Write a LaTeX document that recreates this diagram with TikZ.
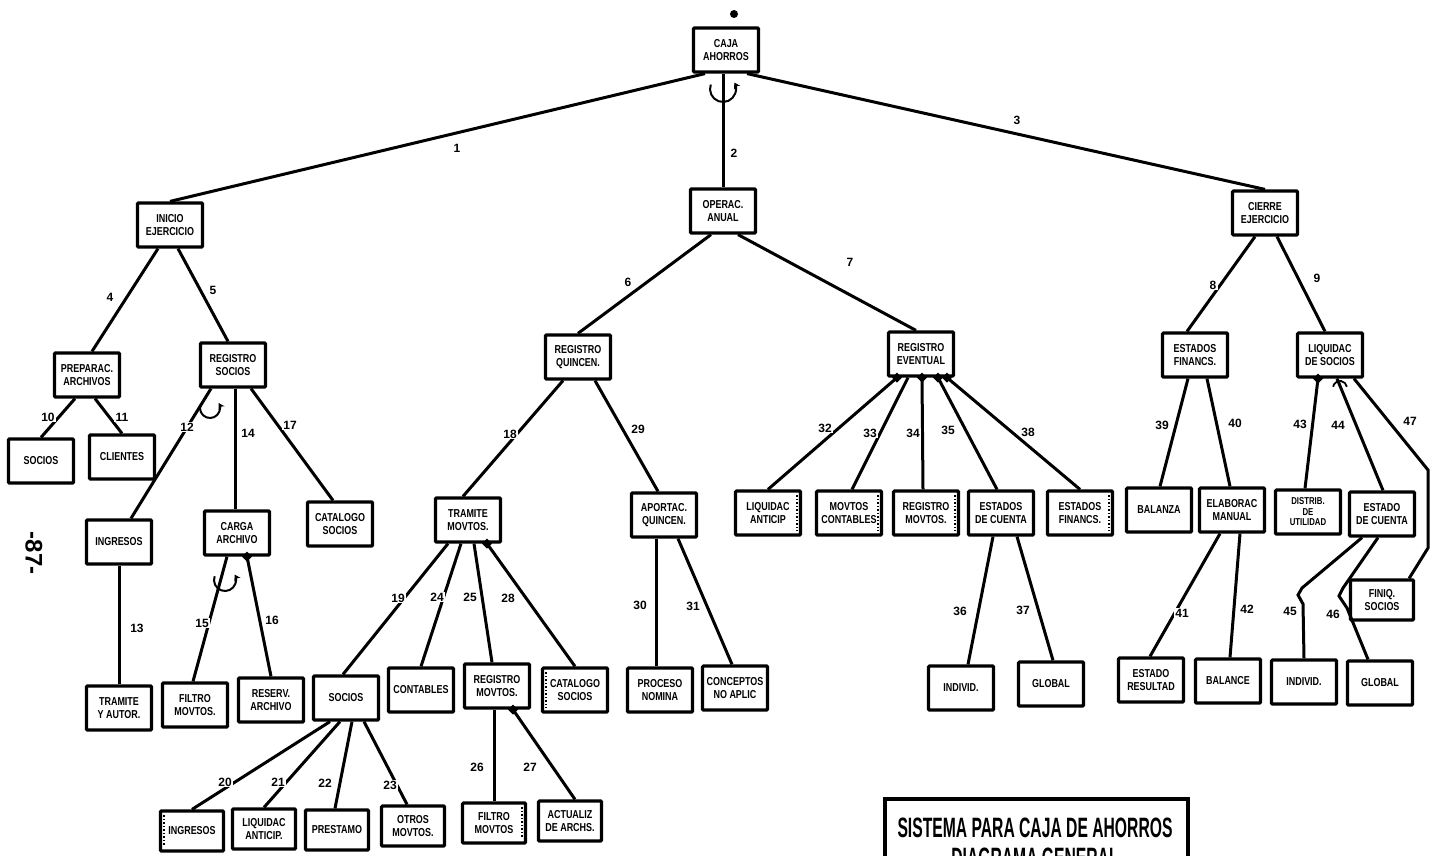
\documentclass[tikz,border=0pt]{standalone}
\usepackage{fontspec}
\setmainfont{Liberation Sans}
\newfontfamily\boxfont[FakeStretch=0.78]{Liberation Sans}
\newfontfamily\titlefont[FakeStretch=0.56]{Liberation Sans}
\usetikzlibrary{calc,shapes.geometric,arrows.meta}

\tikzset{
  blk/.style={draw, line width=3.2pt, minimum width=65pt, minimum height=44pt,
    inner sep=1pt, align=center, fill=white, rounded corners=1pt,
    font=\boxfont\bfseries\fontsize{11.5}{12.5}\selectfont},
  small/.style={minimum width=63pt, minimum height=40pt},
  conn/.style={line width=3pt},
  num/.style={fill=white, inner sep=1.2pt, font=\bfseries\fontsize{12}{13}\selectfont},
  cond/.style={diamond, fill=black, inner sep=0pt, minimum size=10pt},
  itr/.style={line width=2pt, -{Stealth[length=6pt,width=7pt]}},
  innerdots/.style={line width=1.5pt, dotted}
}

\begin{document}
\begin{tikzpicture}[x=1pt,y=-1pt]
\useasboundingbox (0,0) rectangle (1432,856);
\clip (0,0) rectangle (1432,856);
\fill[white] (0,0) rectangle (1432,856);

% ---------- boxes ----------
\node[blk] (root) at (726,50) {CAJA\\AHORROS};

\node[blk] (inicio) at (170,225) {INICIO\\EJERCICIO};
\node[blk] (operac) at (723,211) {OPERAC.\\ANUAL};
\node[blk] (cierre) at (1265,213) {CIERRE\\EJERCICIO};

\node[blk] (prepara)  at (87,375)   {PREPARAC.\\ARCHIVOS};
\node[blk] (regsoc)   at (233,365)  {REGISTRO\\SOCIOS};
\node[blk] (regquin)  at (578,357)  {REGISTRO\\QUINCEN.};
\node[blk] (regevent) at (921,354)  {REGISTRO\\EVENTUAL};
\node[blk] (estfin)   at (1195,355) {ESTADOS\\FINANCS.};
\node[blk] (liqsoc)   at (1330,355) {LIQUIDAC\\DE SOCIOS};

\node[blk] (socios10)   at (41,461)   {SOCIOS};
\node[blk] (clientes)   at (122,457)  {CLIENTES};
\node[blk] (ingresos12) at (119,542)  {INGRESOS};
\node[blk] (carga)      at (237,533)  {CARGA\\ARCHIVO};
\node[blk] (catalogo17) at (340,524)  {CATALOGO\\SOCIOS};
\node[blk] (tramovt)    at (468,520)  {TRAMITE\\MOVTOS.};
\node[blk] (aportac)    at (664,515)  {APORTAC.\\QUINCEN.};
\node[blk] (liq32)      at (768,513)  {LIQUIDAC\\ANTICIP};
\node[blk] (movcont)    at (849,513)  {MOVTOS\\CONTABLES};
\node[blk] (regmov34)   at (926,513)  {REGISTRO\\MOVTOS.};
\node[blk] (estcta)     at (1001,513) {ESTADOS\\DE CUENTA};
\node[blk] (estfin38)   at (1080,513) {ESTADOS\\FINANCS.};
\node[blk] (balanza)    at (1159,510) {BALANZA};
\node[blk] (elabman)    at (1232,510) {ELABORAC\\MANUAL};
\node[blk, font=\boxfont\bfseries\fontsize{10}{10.5}\selectfont] (distrib) at (1308,512) {DISTRIB.\\DE\\UTILIDAD};
\node[blk] (estcta44)   at (1382,514) {ESTADO\\DE CUENTA};
\node[blk, small] (finiq) at (1382,600) {FINIQ.\\SOCIOS};

\node[blk] (tramite13)  at (119,708)  {TRAMITE\\Y AUTOR.};
\node[blk] (filtro15)   at (195,705)  {FILTRO\\MOVTOS.};
\node[blk] (reserv)     at (271,700)  {RESERV.\\ARCHIVO};
\node[blk] (socios19)   at (346,698)  {SOCIOS};
\node[blk] (contables)  at (421,690)  {CONTABLES};
\node[blk] (regmov25)   at (497,686)  {REGISTRO\\MOVTOS.};
\node[blk] (catalogo28) at (575,690)  {CATALOGO\\SOCIOS};
\node[blk] (proceso)    at (660,690)  {PROCESO\\NOMINA};
\node[blk] (conceptos)  at (735,688)  {CONCEPTOS\\NO APLIC};
\node[blk] (indiv36)    at (961,688)  {INDIVID.};
\node[blk] (global37)   at (1051,684) {GLOBAL};
\node[blk] (estres)     at (1151,680) {ESTADO\\RESULTAD};
\node[blk] (balance)    at (1228,681) {BALANCE};
\node[blk] (indiv45)    at (1304,682) {INDIVID.};
\node[blk] (global46)   at (1380,683) {GLOBAL};

\node[blk, small] (ingresos20) at (192,831) {INGRESOS};
\node[blk, small] (liquidac21) at (264,829) {LIQUIDAC\\ANTICIP.};
\node[blk, small] (prestamo)   at (337,830) {PRESTAMO};
\node[blk, small] (otros)      at (413,826) {OTROS\\MOVTOS.};
\node[blk, small] (filtro26)   at (494,823) {FILTRO\\MOVTOS};
\node[blk, small] (actualiz)   at (570,821) {ACTUALIZ\\DE ARCHS.};

% ---------- dotted inner edges ----------
\foreach \n in {liq32,movcont,regmov34,estfin38,filtro26}
  \draw[innerdots] ($(\n.north east)+(-5,6)$) -- ($(\n.south east)+(-5,-6)$);
\foreach \n in {catalogo28,ingresos20}
  \draw[innerdots] ($(\n.north west)+(5,6)$) -- ($(\n.south west)+(5,-6)$);

% ---------- connectors ----------
\draw[conn] ($(root.south)+(-21,0)$) -- (inicio.north);
\draw[conn] ($(root.south)+(-3,0)$) -- (operac.north);
\draw[conn] ($(root.south)+(21,0)$) -- (cierre.north);

\draw[conn] ($(inicio.south)+(-12,0)$) -- ($(prepara.north)+(5,0)$);
\draw[conn] ($(inicio.south)+(8,0)$) -- ($(regsoc.north)+(-5,0)$);
\draw[conn] ($(operac.south)+(-12,0)$) -- ($(regquin.north)+(0,0)$);
\draw[conn] ($(operac.south)+(15,0)$) -- ($(regevent.north)+(-5,0)$);
\draw[conn] ($(cierre.south)+(-10,0)$) -- ($(estfin.north)+(-8,0)$);
\draw[conn] ($(cierre.south)+(12,0)$) -- ($(liqsoc.north)+(-5,0)$);

\draw[conn] ($(prepara.south)+(-12,0)$) -- (socios10.north);
\draw[conn] ($(prepara.south)+(8,0)$) -- (clientes.north);
\draw[conn] ($(regsoc.south)+(-22,0)$) -- ($(ingresos12.north)+(12,0)$);
\draw[conn] ($(regsoc.south)+(2,0)$) -- ($(carga.north)+(-2,0)$);
\draw[conn] ($(regsoc.south)+(18,0)$) -- ($(catalogo17.north)+(-7,0)$);
\draw[conn] (ingresos12.south) -- (tramite13.north);
\draw[conn] ($(carga.south)+(-10,0)$) -- ($(filtro15.north)+(-2,0)$);
\draw[conn] ($(carga.south)+(10,0)$) -- (reserv.north);

\draw[conn] ($(regquin.south)+(-15,0)$) -- ($(tramovt.north)+(-5,0)$);
\draw[conn] ($(regquin.south)+(17,0)$) -- ($(aportac.north)+(-6,0)$);
\draw[conn] ($(tramovt.south)+(-20,0)$) -- ($(socios19.north)+(-3,0)$);
\draw[conn] ($(tramovt.south)+(-7,0)$) -- ($(contables.north)+(0,0)$);
\draw[conn] ($(tramovt.south)+(6,0)$) -- ($(regmov25.north)+(-5,0)$);
\draw[conn] ($(tramovt.south)+(19,0)$) -- ($(catalogo28.north)+(0,0)$);
\draw[conn] ($(socios19.south)+(-16,0)$) -- ($(ingresos20.north)+(0,0)$);
\draw[conn] ($(socios19.south)+(-6,0)$) -- ($(liquidac21.north)+(0,0)$);
\draw[conn] ($(socios19.south)+(6,0)$) -- ($(prestamo.north)+(-2,0)$);
\draw[conn] ($(socios19.south)+(18,0)$) -- ($(otros.north)+(-6,0)$);
\draw[conn] ($(regmov25.south)+(-3,0)$) -- ($(filtro26.north)+(0,0)$);
\draw[conn] ($(regmov25.south)+(16,0)$) -- ($(actualiz.north)+(5,0)$);
\draw[conn] ($(aportac.south)+(-8,0)$) -- ($(proceso.north)+(-4,0)$);
\draw[conn] ($(aportac.south)+(14,0)$) -- ($(conceptos.north)+(-3,0)$);

\draw[conn] ($(regevent.south)+(-24,0)$) -- ($(liq32.north)+(0,0)$);
\draw[conn] ($(regevent.south)+(-13,0)$) -- ($(movcont.north)+(3,0)$);
\draw[conn] ($(regevent.south)+(1,0)$) -- ($(regmov34.north)+(-3,0)$);
\draw[conn] ($(regevent.south)+(17,0)$) -- ($(estcta.north)+(-4,0)$);
\draw[conn] ($(regevent.south)+(26,0)$) -- ($(estfin38.north)+(0,0)$);
\draw[conn] ($(estcta.south)+(-8,0)$) -- ($(indiv36.north)+(7,0)$);
\draw[conn] ($(estcta.south)+(16,0)$) -- ($(global37.north)+(2,0)$);

\draw[conn] ($(estfin.south)+(-7,0)$) -- ($(balanza.north)+(1,0)$);
\draw[conn] ($(estfin.south)+(12,0)$) -- ($(elabman.north)+(-2,0)$);
\draw[conn] ($(elabman.south)+(-12,0)$) -- ($(estres.north)+(-1,0)$);
\draw[conn] ($(elabman.south)+(8,0)$) -- ($(balance.north)+(2,0)$);
\draw[conn] ($(liqsoc.south)+(-12,0)$) -- ($(distrib.north)+(-3,0)$);
\draw[conn] ($(liqsoc.south)+(7,0)$) -- ($(estcta44.north)+(1,0)$);
\draw[conn] ($(liqsoc.south)+(24,0)$) -- (1428,470) -- (1428,548) -- ($(finiq.north east)+(-6,0)$);
\draw[conn] ($(estcta44.south)+(-20,0)$) -- (1302,588) -- (1298,595) -- (1303,604) -- (indiv45.north);
\draw[conn] ($(estcta44.south)+(-4,0)$) -- (1343,588) -- (1339,596) -- (1347,608) -- ($(global46.north)+(-12,0)$);

% ---------- conditional marks ----------
\node[cond] (c16) at ($(carga.south)+(10,0)$) {};
\node[cond] (c28) at ($(tramovt.south)+(19,0)$) {};
\node[cond] (c27) at ($(regmov25.south)+(16,0)$) {};
\node[cond] (c32) at ($(regevent.south)+(-24,0)$) {};
\node[cond] (c34) at ($(regevent.south)+(1,0)$) {};
\node[cond] (c35) at ($(regevent.south)+(17,0)$) {};
\node[cond] (c38) at ($(regevent.south)+(26,0)$) {};
\node[cond] (c43) at ($(liqsoc.south)+(-12,0)$) {};

% ---------- iteration marks ----------
\coordinate (i2) at (723,89);
\draw[itr] ($(i2)+(200:13)$) arc[start angle=200, end angle=-30, radius=13];
\coordinate (i12) at (210,408);
\draw[itr] ($(i12)+(200:10)$) arc[start angle=200, end angle=-30, radius=10];
\coordinate (i15) at (225,580);
\draw[itr] ($(i15)+(200:11)$) arc[start angle=200, end angle=-30, radius=11];
\coordinate (i44) at (1340,388);
\draw[line width=1.8pt] ($(i44)+(190:7)$) arc[start angle=190, end angle=350, radius=7];

% ---------- connector numbers ----------
\node[num] at (457,148) {1};
\node[num] at (734,153) {2};
\node[num] at (1017,120) {3};
\node[num] at (110,297) {4};
\node[num] at (213,290) {5};
\node[num] at (628,282) {6};
\node[num] at (850,262) {7};
\node[num] at (1213,285) {8};
\node[num] at (1317,278) {9};
\node[num] at (48,417) {10};
\node[num] at (122,417) {11};
\node[num] at (187,427) {12};
\node[num] at (248,433) {14};
\node[num] at (290,425) {17};
\node[num] at (137,628) {13};
\node[num] at (202,623) {15};
\node[num] at (272,620) {16};
\node[num] at (510,434) {18};
\node[num] at (638,429) {29};
\node[num] at (398,598) {19};
\node[num] at (437,597) {24};
\node[num] at (470,597) {25};
\node[num] at (508,598) {28};
\node[num] at (640,605) {30};
\node[num] at (693,606) {31};
\node[num] at (225,782) {20};
\node[num] at (278,782) {21};
\node[num] at (325,783) {22};
\node[num] at (390,785) {23};
\node[num] at (477,767) {26};
\node[num] at (530,767) {27};
\node[num] at (825,428) {32};
\node[num] at (870,433) {33};
\node[num] at (913,433) {34};
\node[num] at (948,430) {35};
\node[num] at (1028,432) {38};
\node[num] at (960,611) {36};
\node[num] at (1023,610) {37};
\node[num] at (1162,425) {39};
\node[num] at (1235,423) {40};
\node[num] at (1300,424) {43};
\node[num] at (1338,425) {44};
\node[num] at (1410,421) {47};
\node[num] at (1182,613) {41};
\node[num] at (1247,609) {42};
\node[num] at (1290,611) {45};
\node[num] at (1333,614) {46};

% ---------- page number, dot, title ----------
\node[circle, fill=black, inner sep=0pt, minimum size=8pt] (topdot) at (734,14) {};
\node[rotate=-90, font=\bfseries\fontsize{24}{24}\selectfont] (pagenum) at (34,553) {-87-};

\node[draw, line width=3.6pt, anchor=north west, minimum width=303pt,
      minimum height=110pt, inner sep=0pt] (title) at (883,797) {};
\node[font=\titlefont\bfseries\fontsize{28}{30}\selectfont, inner sep=0pt] (t1) at (1035,828) {SISTEMA PARA CAJA DE AHORROS};
\node[font=\titlefont\bfseries\fontsize{28}{30}\selectfont, inner sep=0pt] (t2) at (1035,858) {DIAGRAMA GENERAL};
\end{tikzpicture}
\end{document}
